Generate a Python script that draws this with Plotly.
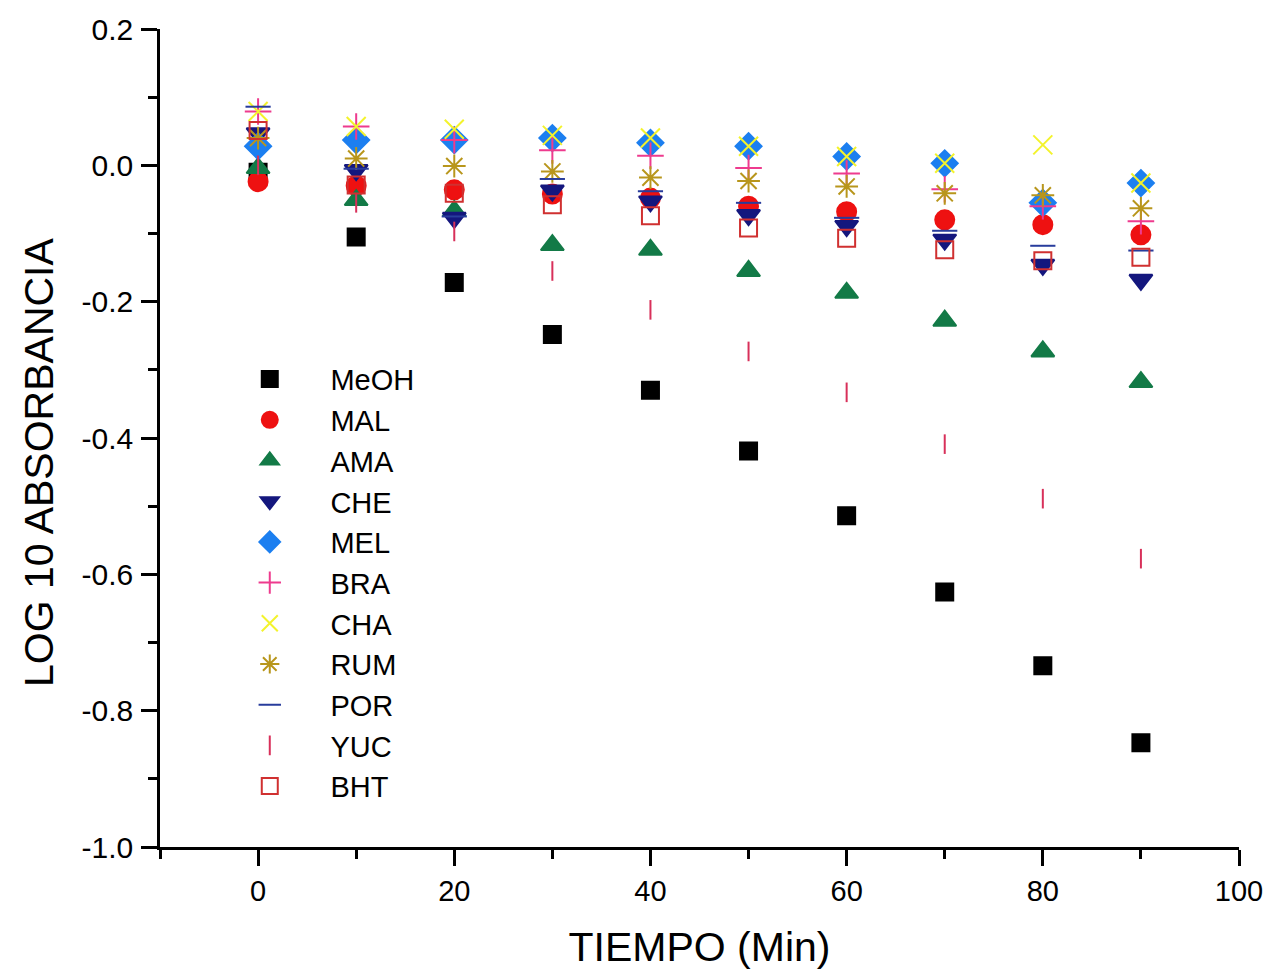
import plotly.graph_objects as go

tiempo = [0, 10, 20, 30, 40, 50, 60, 70, 80, 90]

MeOH = [-0.010, -0.105, -0.172, -0.248, -0.330, -0.419, -0.514, -0.626, -0.734, -0.847]
MAL = [-0.024, -0.030, -0.036, -0.042, -0.048, -0.060, -0.068, -0.080, -0.087, -0.102]
AMA = [-0.004, -0.051, -0.067, -0.117, -0.124, -0.155, -0.187, -0.228, -0.273, -0.318]
CHE = [0.047, -0.007, -0.077, -0.037, -0.053, -0.073, -0.089, -0.109, -0.146, -0.168]
MEL = [0.028, 0.037, 0.037, 0.040, 0.033, 0.028, 0.013, 0.003, -0.055, -0.026]
BRA = [0.079, 0.057, 0.037, 0.022, 0.014, -0.004, -0.012, -0.035, -0.060, -0.082]
CHA = [0.079, 0.057, 0.053, 0.044, 0.040, 0.028, 0.013, 0.003, 0.030, -0.026]
RUM = [0.040, 0.010, -0.001, -0.009, -0.018, -0.023, -0.031, -0.041, -0.044, -0.063]
POR = [0.086, -0.005, -0.075, -0.020, -0.038, -0.055, -0.077, -0.096, -0.118, -0.125]
YUC = [0.000, -0.055, -0.097, -0.155, -0.212, -0.273, -0.333, -0.409, -0.489, -0.577]
BHT = [0.051, -0.029, -0.041, -0.058, -0.074, -0.092, -0.107, -0.124, -0.140, -0.135]

series = [
    ("MeOH", MeOH, "square", "#000000", 17),
    ("MAL", MAL, "circle", "#ee1111", 19),
    ("AMA", AMA, "triangle-up", "#137a47", 20),
    ("CHE", CHE, "triangle-down", "#14177e", 20),
    ("MEL", MEL, "diamond", "#1c7ff0", 20),
    ("BRA", BRA, "cross-thin-open", "#ee3b8e", 19),
    ("CHA", CHA, "x-thin-open", "#f3f32c", 19),
    ("RUM", RUM, "asterisk-open", "#b8961c", 19),
    ("POR", POR, "line-ew-open", "#283c9c", 18),
    ("YUC", YUC, "line-ns-open", "#d8305a", 14),
    ("BHT", BHT, "square-open", "#d03030", 17),
]

pad = "\u2003\u2009\u2009"

fig = go.Figure()
for name, vals, sym, col, sz in series:
    fig.add_trace(go.Scatter(
        x=tiempo, y=vals, mode="markers", name=pad + name,
        marker=dict(symbol=sym, size=sz, color=col,
                    line=dict(color=col, width=2)),
    ))

font_family = "Liberation Sans, Arial, sans-serif"

fig.update_layout(
    width=1275, height=975,
    margin=dict(l=160, r=31, t=25, b=128),
    paper_bgcolor="white", plot_bgcolor="white",
    font=dict(family=font_family, color="black"),
    showlegend=True,
    legend=dict(
        x=0.0832, y=0.603, xanchor="left", yanchor="top",
        bgcolor="rgba(0,0,0,0)",
        font=dict(size=29, family=font_family, color="black"),
        tracegroupgap=0,
    ),
    xaxis=dict(
        range=[-10, 100], showgrid=False, zeroline=False,
        showline=True, linecolor="black", linewidth=2.5,
        ticks="outside", ticklen=16, tickwidth=2.5, tickcolor="black",
        tickvals=[0, 20, 40, 60, 80, 100],
        minor=dict(ticks="outside", ticklen=9, tickwidth=2.5, tickcolor="black",
                   tickvals=[-10, 10, 30, 50, 70, 90]),
        tickfont=dict(size=29, family=font_family),
        title=dict(text="TIEMPO (Min)", font=dict(size=41, family=font_family), standoff=27),
    ),
    yaxis=dict(
        range=[-1.0, 0.2], showgrid=False, zeroline=False,
        showline=True, linecolor="black", linewidth=2.5,
        ticks="outside", ticklen=16, tickwidth=2.5, tickcolor="black",
        tickvals=[-1.0, -0.8, -0.6, -0.4, -0.2, 0.0, 0.2],
        ticktext=["-1.0", "-0.8", "-0.6", "-0.4", "-0.2", "0.0", "0.2"],
        minor=dict(ticks="outside", ticklen=9, tickwidth=2.5, tickcolor="black",
                   tickvals=[-0.9, -0.7, -0.5, -0.3, -0.1, 0.1]),
        tickfont=dict(size=30, family=font_family),
        ticklabelstandoff=2,
    ),
    annotations=[dict(
        text="LOG 10 ABSORBANCIA", textangle=-90,
        xref="paper", yref="paper", x=-0.112, y=0.4708,
        xanchor="center", yanchor="middle", showarrow=False,
        font=dict(size=41, family=font_family, color="black"),
    )],
)

fig.write_html("out.html")
